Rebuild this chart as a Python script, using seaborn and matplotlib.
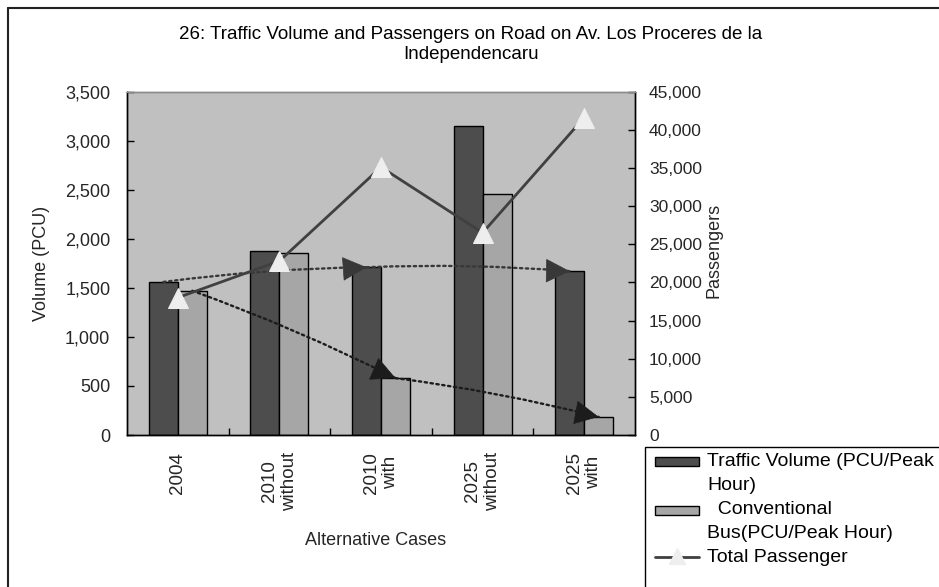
import numpy as np
import pandas as pd
import matplotlib
matplotlib.use("Agg")
import matplotlib.pyplot as plt
import seaborn as sns
from matplotlib.patches import Rectangle
from matplotlib.lines import Line2D
from matplotlib.ticker import FuncFormatter, MultipleLocator, FixedLocator

# ---- data -------------------------------------------------------------
cases = ["2004", "2010\nwithout", "2010\nwith", "2025\nwithout", "2025\nwith"]
traffic_volume = [1560, 1875, 1710, 3150, 1670]      # PCU / peak hour
bus_volume = [1470, 1850, 580, 2460, 185]            # PCU / peak hour
total_passengers = [18000, 22800, 35100, 26500, 41600]

series_names = ["Traffic Volume (PCU/Peak Hour)", "Conventional Bus(PCU/Peak Hour)"]
bar_colors = ["#4d4d4d", "#a6a6a6"]
line_color = "#404040"
marker_color = "#eeeeee"

title = "26: Traffic Volume and Passengers on Road on Av. Los Proceres de la\nIndependencaru"

# ---- style ------------------------------------------------------------
sns.set_theme(style="ticks")
plt.rcParams["font.family"] = ["Liberation Sans", "DejaVu Sans"]
plt.rcParams["text.color"] = "black"

W, H = 939, 587
fig = plt.figure(figsize=(W / 100, H / 100), dpi=100)
fig.patch.set_facecolor("white")


def fx(px):
    return px / W


def fy(py):
    return 1 - py / H


ax = fig.add_axes([fx(127), fy(435), fx(635) - fx(127), fy(91.6) - fy(435)])
ax.set_facecolor("#c0c0c0")

# ---- bars (left axis) -------------------------------------------------
df = pd.DataFrame({
    "case": cases * 2,
    "series": [series_names[0]] * len(cases) + [series_names[1]] * len(cases),
    "volume": traffic_volume + bus_volume,
})
bar_width = 0.57
sns.barplot(data=df, x="case", y="volume", hue="series", hue_order=series_names,
            order=cases, palette=bar_colors, saturation=1, width=bar_width,
            edgecolor="black", linewidth=1, ax=ax, legend=False, errorbar=None)

ax.set_xlim(-0.5, len(cases) - 0.5)
ax.set_ylim(0, 3500)
ax.yaxis.set_major_locator(MultipleLocator(500))
ax.yaxis.set_major_formatter(FuncFormatter(lambda v, p: f"{v:,.0f}"))
ax.tick_params(axis="y", direction="in", length=5, width=1, color="black",
               labelsize=13, pad=12, left=True)
ax.set_xticks(range(len(cases)))
ax.set_xticklabels(cases, rotation=90, ha="center", va="top",
                   multialignment="center", fontsize=13.5)
ax.xaxis.set_minor_locator(FixedLocator([i + 0.5 for i in range(len(cases) - 1)]))
ax.tick_params(axis="x", which="major", length=0, pad=12)
ax.tick_params(axis="x", which="minor", direction="in", length=5, width=1,
               color="black", bottom=True)

ax.set_ylabel("Volume (PCU)", fontsize=13)
ax.yaxis.set_label_coords((50 - 127) / 508, 0.5)
ax.set_xlabel("Alternative Cases", fontsize=13)
ax.xaxis.set_label_coords((376 - 127) / 508, (435 - 532) / 343.4)

# ---- passengers (right axis) -----------------------------------------
ax2 = ax.twinx()
sns.lineplot(x=cases, y=total_passengers, ax=ax2, sort=False, color=line_color,
             linewidth=2, marker="^", markersize=15, markerfacecolor=marker_color,
             markeredgecolor=marker_color, zorder=4)
ax2.set_ylim(0, 45000)
ax2.yaxis.set_major_locator(MultipleLocator(5000))
ax2.yaxis.set_major_formatter(FuncFormatter(lambda v, p: f"{v:,.0f}"))
ax2.tick_params(axis="y", direction="in", length=5, width=1, color="black",
                labelsize=12.5, pad=10, right=True)
ax2.set_ylabel("Passengers", fontsize=13)
ax2.yaxis.set_label_coords((705 - 127) / 508, (435 - 250) / 343.4)

for a in (ax, ax2):
    for side in ("left", "right", "bottom"):
        a.spines[side].set_color("black")
        a.spines[side].set_linewidth(1)
    a.spines["top"].set_color("#8a8a8a")
    a.spines["top"].set_linewidth(1)

# ---- dotted trend arrows between bar tops ----------------------------
quarter = bar_width / 4
arrow_sets = [
    (traffic_volume, -quarter, "#383838"),
    (bus_volume, +quarter, "#1c1c1c"),
]
for values, offset, col in arrow_sets:
    idx = [0, 2, 4]
    for a_i, b_i in zip(idx[:-1], idx[1:]):
        start = (a_i + offset, values[a_i])
        end = (b_i + offset, values[b_i])
        # dotted shaft
        ax2.annotate(
            "", xy=end, xytext=start,
            xycoords=ax.transData, textcoords=ax.transData,
            arrowprops=dict(arrowstyle="-", color=col, lw=1.7,
                            linestyle=(0, (1, 1.5)), shrinkA=0, shrinkB=0,
                            connectionstyle="arc3,rad=-0.03"),
            zorder=3,
        )
        # solid head at the end of the shaft
        t = 0.1
        near = (end[0] - t * (end[0] - start[0]), end[1] - t * (end[1] - start[1]))
        ax2.annotate(
            "", xy=end, xytext=near,
            xycoords=ax.transData, textcoords=ax.transData,
            arrowprops=dict(arrowstyle="-|>,head_length=0.9,head_width=0.45",
                            mutation_scale=18, facecolor=col, edgecolor=col,
                            lw=0.5, shrinkA=0, shrinkB=0),
            zorder=3,
        )

# ---- title ------------------------------------------------------------
fig.text(fx(471), fy(44.5), title, ha="center", va="center",
         fontsize=13.5, linespacing=1.25)

# ---- legend -------------------------------------------------------------
fig.add_artist(Rectangle((fx(645), fy(600)), fx(400), fy(447) - fy(600),
                         transform=fig.transFigure, facecolor="white",
                         edgecolor="black", linewidth=1))
legend_rows = [
    ("patch", bar_colors[0], ["Traffic Volume (PCU/Peak", "Hour)"], 461),
    ("patch", bar_colors[1], ["  Conventional", "Bus(PCU/Peak Hour)"], 510),
    ("line", line_color, ["Total Passenger"], 557),
]
for kind, col, lines, yc in legend_rows:
    if kind == "patch":
        fig.add_artist(Rectangle((fx(655), fy(yc + 4.5)), fx(699) - fx(655),
                                 fy(yc - 4.5) - fy(yc + 4.5),
                                 transform=fig.transFigure, facecolor=col,
                                 edgecolor="black", linewidth=1))
    else:
        fig.add_artist(Line2D([fx(655), fx(699)], [fy(yc), fy(yc)],
                              transform=fig.transFigure, color=col, linewidth=2))
        fig.add_artist(Line2D([fx(677)], [fy(yc - 1)], transform=fig.transFigure,
                              marker="^", markersize=12, color=marker_color,
                              linestyle="none"))
    for k, txt in enumerate(lines):
        fig.text(fx(707), fy(yc + 24 * k), txt, ha="left", va="center", fontsize=14)

# ---- outer frame ------------------------------------------------------
fig.add_artist(Line2D([fx(8), fx(8)], [fy(8), fy(600)], transform=fig.transFigure,
                      color="#222222", linewidth=1.5))
fig.add_artist(Line2D([fx(8), fx(950)], [fy(8), fy(8)], transform=fig.transFigure,
                      color="#222222", linewidth=1.5))

fig.savefig("out.png", dpi=100, facecolor="white")
